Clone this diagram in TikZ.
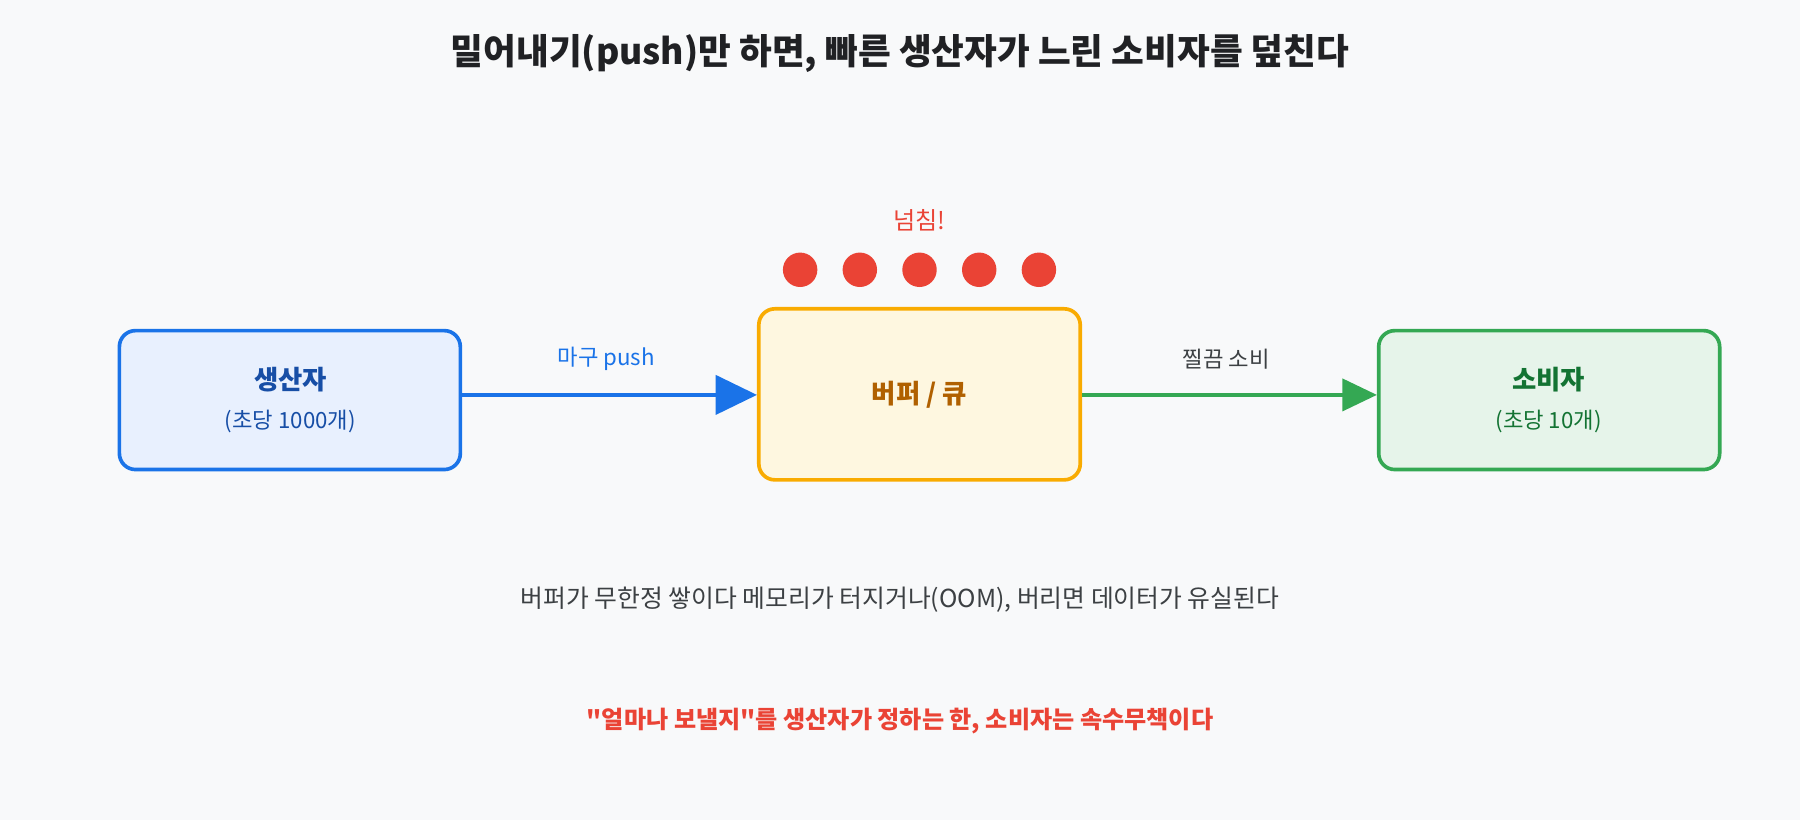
\documentclass[tikz,border=0pt]{standalone}
\usepackage{fontspec}
\setmainfont{Noto Sans CJK KR}
\newfontfamily\plainq{Noto Sans CJK KR}[Ligatures=ResetAll]
\usetikzlibrary{arrows.meta}
\definecolor{bg}{HTML}{F8F9FA}
\definecolor{pblue}{HTML}{1A73E8}
\definecolor{pbluef}{HTML}{E8F0FE}
\definecolor{pblued}{HTML}{174EA6}
\definecolor{bor}{HTML}{F9AB00}
\definecolor{borf}{HTML}{FEF7E0}
\definecolor{bord}{HTML}{B06000}
\definecolor{cgr}{HTML}{34A853}
\definecolor{cgrf}{HTML}{E6F4EA}
\definecolor{cgrd}{HTML}{137333}
\definecolor{red}{HTML}{EA4335}
\definecolor{txt}{HTML}{202124}
\definecolor{gtxt}{HTML}{3C4043}
\begin{document}
\begin{tikzpicture}[x=0.5pt,y=-0.5pt,
 box/.style={draw,line width=1.6pt,rounded corners=7pt,inner sep=0pt},
 dot/.style={circle,fill=red,minimum size=15pt,inner sep=0pt},
 lab/.style={font=\fontsize{9.7}{11}\selectfont}]
\fill[bg] (0,0) rectangle (1568,714);
\useasboundingbox (0,0) rectangle (1568,714);
\node[txt,font=\fontsize{15.5}{18}\selectfont\bfseries] (title) at (784,47) {밀어내기(push)만 하면, 빠른 생산자가 느린 소비자를 덮친다};
\node[box,draw=pblue,fill=pbluef,minimum width=148.5pt,minimum height=60.5pt] (prod) at (252.5,348.5) {};
\node[pblued,font=\fontsize{11.5}{13}\selectfont\bfseries] (prodt) at (253,331) {생산자};
\node[pblued,lab] (prods) at (253,367) {(초당 1000개)};
\node[box,draw=bor,fill=borf,minimum width=140pt,minimum height=74.5pt] (buf) at (801,343.5) {};
\node[bord,font=\fontsize{11.5}{13}\selectfont\bfseries] (buft) at (801,344) {버퍼 / 큐};
\node[box,draw=cgr,fill=cgrf,minimum width=148.5pt,minimum height=60.5pt] (cons) at (1349.5,348.5) {};
\node[cgrd,font=\fontsize{11.5}{13}\selectfont\bfseries] (const) at (1349,331) {소비자};
\node[cgrd,lab] (conss) at (1349,367) {(초당 10개)};
\draw[pblue,line width=1.8pt,-{Triangle[length=18pt,width=17pt]}] (prod.east|-0,344) -- (buf.west|-0,344);
\node[pblue,lab] (push) at (528,313) {마구 push};
\draw[cgr,line width=1.4pt,-{Triangle[length=15pt,width=14pt]}] (buf.east|-0,344) -- (cons.west|-0,344);
\node[gtxt,lab] (cons2) at (1068,313) {찔끔 소비};
\foreach \i/\x in {1/697,2/749,3/801,4/853,5/905} \node[dot] (d\i) at (\x,235) {};
\node[red,font=\fontsize{10.5}{12}\selectfont] (over) at (801,192) {넘침!};
\node[gtxt,font=\fontsize{10.8}{12}\selectfont] (note) at (784,522) {버퍼가 무한정 쌓이다 메모리가 터지거나(OOM), 버리면 데이터가 유실된다};
\node[red,font=\fontsize{10.5}{12}\selectfont\bfseries] (warn) at (784,628) {{\plainq\bfseries "}얼마나 보낼지{\plainq\bfseries "}를 생산자가 정하는 한, 소비자는 속수무책이다};
\end{tikzpicture}
\end{document}
